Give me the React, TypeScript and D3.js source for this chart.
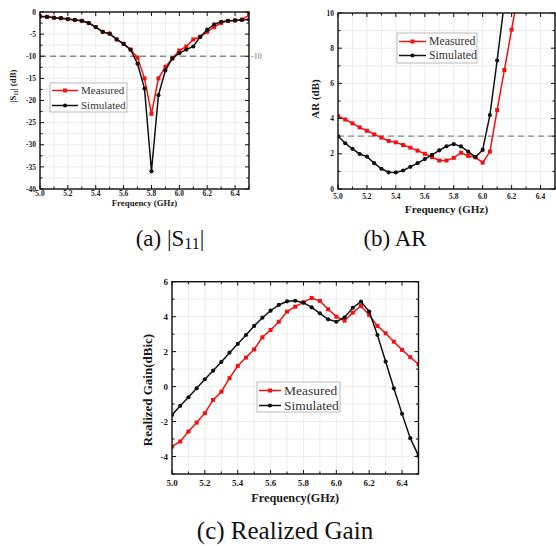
import React, { useEffect, useRef } from 'react';
import * as d3 from 'd3';

// frequency grid of the measured / simulated points (GHz)
const freq = [5.0, 5.05, 5.1, 5.15, 5.2, 5.25, 5.3, 5.35, 5.4, 5.45, 5.5, 5.55, 5.6, 5.65, 5.7, 5.75,
  5.8, 5.85, 5.9, 5.95, 6.0, 6.05, 6.1, 6.15, 6.2, 6.25, 6.3, 6.35, 6.4, 6.45, 6.5];

// (a) |S11| in dB
const s11Measured = [-1.0, -1.1, -1.3, -1.4, -1.6, -1.8, -2.0, -2.5, -3.4, -4.5, -4.9, -6.2, -7.2, -8.5, -10.3, -15.0,
  -23.0, -15.0, -12.4, -10.5, -8.7, -7.8, -6.2, -5.6, -4.5, -3.4, -2.5, -2.0, -1.9, -1.7, -0.7];
const s11Simulated = [-1.0, -1.1, -1.3, -1.4, -1.6, -1.8, -2.0, -2.5, -3.4, -4.5, -4.9, -6.2, -7.2, -8.5, -11.7, -17.3,
  -36.0, -18.8, -13.2, -10.5, -9.3, -8.5, -7.8, -5.6, -4.0, -2.8, -2.2, -2.0, -1.9, -1.8, -1.7];

// (b) axial ratio in dB (curves leave the top of the plot)
const arMeasured = [4.14, 3.95, 3.73, 3.5, 3.31, 3.1, 2.92, 2.73, 2.65, 2.5, 2.35, 2.18, 2.0, 1.81, 1.62, 1.62,
  1.77, 2.06, 1.88, 1.8, 1.5, 2.12, 4.48, 6.76, 9.05, 11.3];
const arSimulated = [3.01, 2.6, 2.28, 1.99, 1.84, 1.47, 1.15, 0.95, 0.94, 1.05, 1.26, 1.47, 1.7, 1.94, 2.2, 2.43,
  2.55, 2.42, 2.12, 1.81, 2.22, 4.2, 7.3, 10.6];

// (c) realized gain in dBic
const gainMeasured = [-3.43, -3.14, -2.57, -2.06, -1.52, -0.76, -0.29, 0.48, 1.18, 1.66, 2.13, 2.82, 3.24, 3.71, 4.29, 4.57,
  4.82, 5.07, 4.9, 4.42, 4.0, 3.77, 4.23, 4.61, 4.1, 3.47, 3.05, 2.57, 2.1, 1.68, 1.28];
const gainSimulated = [-1.62, -1.1, -0.61, -0.1, 0.42, 0.91, 1.41, 1.94, 2.44, 2.95, 3.47, 3.94, 4.34, 4.67, 4.88, 4.91,
  4.8, 4.53, 4.19, 3.85, 3.71, 3.96, 4.51, 4.86, 4.29, 2.95, 1.43, -0.1, -1.56, -2.95, -3.96];

const freqTicks = [5.0, 5.2, 5.4, 5.6, 5.8, 6.0, 6.2, 6.4];
const s11Ticks = [0, -5, -10, -15, -20, -25, -30, -35, -40];
const arTicks = [0, 2, 4, 6, 8, 10];
const gainTicks = [-4, -2, 0, 2, 4, 6];
const seriesNames = ['Measured', 'Simulated'];

const SERIF = "'Times New Roman', 'Liberation Serif', 'DejaVu Serif', serif";
const RED = '#f41010';

type Panel = {
  id: string;
  left: number; right: number; top: number; bottom: number;
  yDomain: [number, number];
  yTicks: number[];
  yMinor: number;
  measured: number[];
  simulated: number[];
  dashed?: number;
  dashedTo: number;
  tickFont: number;
  xLabelY: number;
  xTitle: string; xTitleY: number; xTitleFont: number;
  yTitle: string; yTitleX: number; yTitleY: number; yTitleFont: number;
  legend: { x: number; y: number; w: number; h: number; font: number; line: number; rows: number[] };
};

function drawPanel(svg: any, p: Panel) {
  const x = d3.scaleLinear().domain([5.0, 6.5]).range([p.left, p.right]);
  const y = d3.scaleLinear().domain(p.yDomain).range([p.bottom, p.top]);
  const g = svg.append('g');

  g.append('clipPath').attr('id', 'clip-' + p.id)
    .append('rect').attr('x', p.left).attr('y', p.top)
    .attr('width', p.right - p.left).attr('height', p.bottom - p.top);

  const xMinor = d3.range(5.0, 6.51, 0.1);
  const yMinor = d3.range(p.yDomain[0], p.yDomain[1] + 0.001, p.yMinor);

  // light grid
  g.selectAll('.gx').data(xMinor).join('line')
    .attr('x1', (d: number) => x(d)).attr('x2', (d: number) => x(d))
    .attr('y1', p.top).attr('y2', p.bottom)
    .attr('stroke', '#e4e4e4').attr('stroke-width', 0.7);
  g.selectAll('.gy').data(yMinor).join('line')
    .attr('y1', (d: number) => y(d)).attr('y2', (d: number) => y(d))
    .attr('x1', p.left).attr('x2', p.right)
    .attr('stroke', '#e4e4e4').attr('stroke-width', 0.7);

  if (p.dashed !== undefined) {
    g.append('line')
      .attr('x1', p.left).attr('x2', p.dashedTo)
      .attr('y1', y(p.dashed)).attr('y2', y(p.dashed))
      .attr('stroke', '#8a8a8a').attr('stroke-width', 1.3)
      .attr('stroke-dasharray', '6,4');
  }

  const series = [
    { vals: p.measured, color: RED, square: true },
    { vals: p.simulated, color: '#111', square: false },
  ];
  const plot = g.append('g').attr('clip-path', `url(#clip-${p.id})`);
  series.forEach(s => {
    const pts = s.vals.map((v, i) => [freq[i], v] as [number, number]);
    const line = d3.line<[number, number]>().x(d => x(d[0])).y(d => y(d[1]));
    plot.append('path').attr('d', line(pts)).attr('fill', 'none')
      .attr('stroke', s.color).attr('stroke-width', 1.5);
    if (s.square) {
      plot.selectAll(null).data(pts).join('rect')
        .attr('x', (d: [number, number]) => x(d[0]) - 2).attr('y', (d: [number, number]) => y(d[1]) - 2)
        .attr('width', 4).attr('height', 4).attr('fill', s.color);
    } else {
      plot.selectAll(null).data(pts).join('circle')
        .attr('cx', (d: [number, number]) => x(d[0])).attr('cy', (d: [number, number]) => y(d[1]))
        .attr('r', 2.1).attr('fill', s.color);
    }
  });

  // frame
  g.append('rect').attr('x', p.left).attr('y', p.top)
    .attr('width', p.right - p.left).attr('height', p.bottom - p.top)
    .attr('fill', 'none').attr('stroke', '#111').attr('stroke-width', 1.4);

  // inward ticks on all four sides
  const tk = g.append('g').attr('stroke', '#111').attr('stroke-width', 1);
  xMinor.forEach((v, i) => {
    const len = i % 2 === 0 ? 4 : 2.5;
    tk.append('line').attr('x1', x(v)).attr('x2', x(v)).attr('y1', p.bottom).attr('y2', p.bottom - len);
    tk.append('line').attr('x1', x(v)).attr('x2', x(v)).attr('y1', p.top).attr('y2', p.top + len);
  });
  yMinor.forEach(v => {
    const len = p.yTicks.includes(Math.round(v * 100) / 100) ? 4 : 2.5;
    tk.append('line').attr('y1', y(v)).attr('y2', y(v)).attr('x1', p.left).attr('x2', p.left + len);
    tk.append('line').attr('y1', y(v)).attr('y2', y(v)).attr('x1', p.right).attr('x2', p.right - len);
  });

  const txt = g.append('g').style('font-family', SERIF).attr('font-weight', 'bold').attr('fill', '#1a1a1a');
  freqTicks.forEach(v => {
    txt.append('text').attr('x', x(v)).attr('y', p.xLabelY).attr('text-anchor', 'middle')
      .attr('font-size', p.tickFont).text(v.toFixed(1));
  });
  p.yTicks.forEach(v => {
    txt.append('text').attr('x', p.left - 4).attr('y', y(v) + p.tickFont * 0.35)
      .attr('text-anchor', 'end').attr('font-size', p.tickFont).text(String(v));
  });
  txt.append('text').attr('x', (p.left + p.right) / 2).attr('y', p.xTitleY)
    .attr('text-anchor', 'middle').attr('font-size', p.xTitleFont).text(p.xTitle);
  txt.append('text')
    .attr('transform', `translate(${p.yTitleX},${p.yTitleY}) rotate(-90)`)
    .attr('text-anchor', 'middle').attr('font-size', p.yTitleFont).text(p.yTitle);

  // legend
  const L = p.legend;
  const lg = g.append('g');
  lg.append('rect').attr('x', L.x).attr('y', L.y).attr('width', L.w).attr('height', L.h)
    .attr('fill', '#fff').attr('stroke', '#aaa').attr('stroke-width', 0.8);
  seriesNames.forEach((name, i) => {
    const cy = L.rows[i];
    const c = series[i].color;
    lg.append('line').attr('x1', L.x + 2).attr('x2', L.x + 2 + L.line).attr('y1', cy).attr('y2', cy)
      .attr('stroke', c).attr('stroke-width', 1.5);
    if (series[i].square) {
      lg.append('rect').attr('x', L.x + 2 + L.line / 2 - 2).attr('y', cy - 2).attr('width', 4).attr('height', 4).attr('fill', c);
    } else {
      lg.append('circle').attr('cx', L.x + 2 + L.line / 2).attr('cy', cy).attr('r', 2.1).attr('fill', c);
    }
    lg.append('text').attr('x', L.x + L.line + 5).attr('y', cy + L.font * 0.33)
      .style('font-family', SERIF).attr('font-size', L.font).attr('fill', '#333').text(name);
  });
  return { x, y, g };
}

export default function App() {
  const svgRef = useRef<SVGSVGElement>(null);

  useEffect(() => {
    const svg = d3.select(svgRef.current);
    svg.selectAll('*').remove();

    const a = drawPanel(svg, {
      id: 'a', left: 40, right: 249, top: 12, bottom: 189,
      yDomain: [-40, 0], yTicks: s11Ticks, yMinor: 2.5,
      measured: s11Measured, simulated: s11Simulated,
      dashed: -10, dashedTo: 250, tickFont: 7.5, xLabelY: 196,
      xTitle: 'Frequency (GHz)', xTitleY: 206, xTitleFont: 8.8,
      yTitle: '|S\u2081\u2081| (dB)', yTitleX: 16, yTitleY: 86, yTitleFont: 8.8,
      legend: { x: 50, y: 83, w: 77, h: 29, font: 11, line: 26, rows: [90.5, 105.5] },
    });
    a.g.append('text').attr('x', 251).attr('y', a.y(-10) + 3).style('font-family', SERIF)
      .attr('font-size', 8).attr('fill', '#777').text('-10');

    drawPanel(svg, {
      id: 'b', left: 338, right: 555, top: 13, bottom: 189,
      yDomain: [0, 10], yTicks: arTicks, yMinor: 1,
      measured: arMeasured, simulated: arSimulated,
      dashed: 3, dashedTo: 556, tickFont: 7.5, xLabelY: 199,
      xTitle: 'Frequency (GHz)', xTitleY: 213, xTitleFont: 11.2,
      yTitle: 'AR (dB)', yTitleX: 319, yTitleY: 99, yTitleFont: 11,
      legend: { x: 397, y: 33, w: 80, h: 30, font: 11.8, line: 27, rows: [41.5, 55.5] },
    });

    drawPanel(svg, {
      id: 'c', left: 172, right: 418.5, top: 281.7, bottom: 474,
      yDomain: [-5, 6], yTicks: gainTicks, yMinor: 1,
      measured: gainMeasured, simulated: gainSimulated,
      dashedTo: 0, tickFont: 9, xLabelY: 486,
      xTitle: 'Frequency(GHz)', xTitleY: 502, xTitleFont: 12.2,
      yTitle: 'Realized Gain(dBic)', yTitleX: 152, yTitleY: 390, yTitleFont: 13,
      legend: { x: 257, y: 382, w: 83, h: 30, font: 13.5, line: 22, rows: [390.5, 405.5] },
    });

    // captions
    const cap = svg.append('g').style('font-family', SERIF).attr('fill', '#111').attr('font-size', 23);
    const ca = cap.append('text').attr('x', 170).attr('y', 246).attr('text-anchor', 'middle');
    ca.append('tspan').text('(a) |S');
    ca.append('tspan').attr('font-size', 16).attr('dy', 3).text('11');
    ca.append('tspan').attr('dy', -3).text('|');
    cap.append('text').attr('x', 395).attr('y', 246).attr('text-anchor', 'middle').text('(b) AR');
    cap.append('text').attr('x', 285).attr('y', 539).attr('text-anchor', 'middle')
      .attr('font-size', 25).text('(c) Realized Gain');
  }, []);

  return (
    <svg ref={svgRef} width={556} height={546}
      style={{ position: 'absolute', left: 0, top: 0, background: '#fff' }} />
  );
}
